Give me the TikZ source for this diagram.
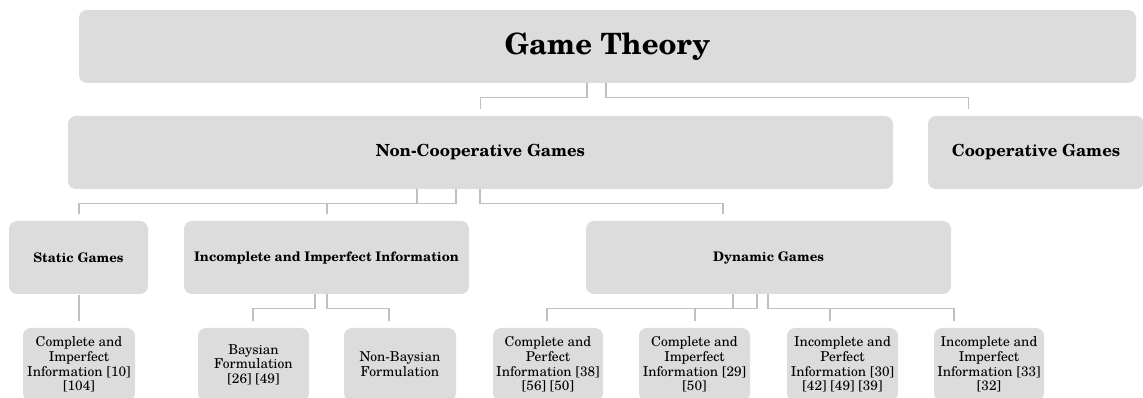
\documentclass[tikz,border=0pt]{standalone}
\usepackage{fontspec}
\setmainfont{TeX Gyre Schola}
\usetikzlibrary{calc}
\definecolor{boxfill}{HTML}{DCDCDC}
\definecolor{linkgray}{HTML}{BFBFBF}
\tikzset{
  box/.style={draw=none, fill=boxfill, rounded corners=6pt, inner sep=0pt,
    align=center, text=black},
  lvl0/.style={box, font=\fontsize{22}{26}\selectfont\bfseries},
  lvl1/.style={box, font=\fontsize{12.5}{15}\selectfont\bfseries},
  lvl2/.style={box, font=\fontsize{9.9}{12}\selectfont\bfseries},
  leaf/.style={box, font=\fontsize{10.2}{11}\selectfont},
  link/.style={draw=linkgray, line width=0.8pt}
}
\begin{document}
\begin{tikzpicture}[x=0.75pt, y=-0.75pt]
\useasboundingbox (0,0) rectangle (1143,398);
\clip (0,0) rectangle (1143,398);

% top level
\node[lvl0, minimum width=1057*0.75pt, minimum height=73*0.75pt] (gt) at (607.5,46.5) {Game Theory};

% second level
\node[lvl1, minimum width=825*0.75pt, minimum height=73*0.75pt] (nc) at (480.5,152.5) {Non-Cooperative Games};
\node[lvl1, minimum width=216*0.75pt, minimum height=73*0.75pt] (coop) at (1036,152.5) {Cooperative Games};

% third level
\node[lvl2, minimum width=139*0.75pt, minimum height=73*0.75pt] (static) at (78.5,257.5) {Static Games};
\node[lvl2, minimum width=285*0.75pt, minimum height=73*0.75pt] (iii) at (326.5,257.5) {Incomplete and Imperfect Information};
\node[lvl2, minimum width=365*0.75pt, minimum height=73*0.75pt] (dyn) at (768.5,257.5) {Dynamic Games};

% leaves
\node[leaf, minimum width=112*0.75pt, minimum height=73*0.75pt] (sci) at (79,364.5) {Complete and\\Imperfect\\Information [10]\\{[104]}};
\node[leaf, minimum width=111*0.75pt, minimum height=73*0.75pt] (bay) at (253.5,364.5) {Baysian\\Formulation\\{[26] [49]}};
\node[leaf, minimum width=112*0.75pt, minimum height=73*0.75pt] (nbay) at (400,364.5) {Non-Baysian\\Formulation};
\node[leaf, minimum width=110*0.75pt, minimum height=73*0.75pt] (cp) at (548,364.5) {Complete and\\Perfect\\Information [38]\\{[56] [50]}};
\node[leaf, minimum width=111*0.75pt, minimum height=73*0.75pt] (ci) at (694.5,364.5) {Complete and\\Imperfect\\Information [29]\\{[50]}};
\node[leaf, minimum width=111*0.75pt, minimum height=73*0.75pt] (ip) at (842.5,364.5) {Incomplete and\\Perfect\\Information [30]\\{[42] [49] [39]}};
\node[leaf, minimum width=110*0.75pt, minimum height=73*0.75pt] (ii) at (989,364.5) {Incomplete and\\Imperfect\\Information [33]\\{[32]}};

% connectors: elbow links from parent bottom to just above child top
\draw[link] ($(gt.south)+(-20.5,0)$) -- ++(0,14) -| ($(nc.north)+(0,-7)$);
\draw[link] ($(gt.south)+(-1.5,0)$) -- ++(0,14) -| ($(coop.north west)+(41,-7)$);

\draw[link] ($(nc.south)+(-63.5,0)$) -- ++(0,14) -| ($(static.north)+(0.5,-7)$);
\draw[link] ($(nc.south)+(-24.5,0)$) -- ++(0,14) -| ($(iii.north)+(0.5,-7)$);
\draw[link] ($(nc.south)+(-0.5,0)$) -- ++(0,14) -| ($(dyn.north)+(-45.5,-7)$);

\draw[link] ($(static.south)+(0.5,1)$) -- ($(sci.north)+(0,-7)$);
\draw[link] ($(iii.south)+(-11.5,0)$) -- ++(0,14) -| ($(bay.north)+(-0.5,-7)$);
\draw[link] ($(iii.south)+(0.5,0)$) -- ++(0,14) -| ($(nbay.north)+(-11,-7)$);

\draw[link] ($(dyn.south)+(-35.5,0)$) -- ++(0,14) -| ($(cp.north)+(-1,-7)$);
\draw[link] ($(dyn.south)+(-11.5,0)$) -- ++(0,14) -| ($(ci.north)+(0.5,-7)$);
\draw[link] ($(dyn.south)+(-0.5,0)$) -- ++(0,14) -| ($(ip.north)+(-12.5,-7)$);
\draw[link] ($(dyn.south)+(-0.5,0)$) -- ++(0,14) -| ($(ii.north)+(-35,-7)$);
\end{tikzpicture}
\end{document}
